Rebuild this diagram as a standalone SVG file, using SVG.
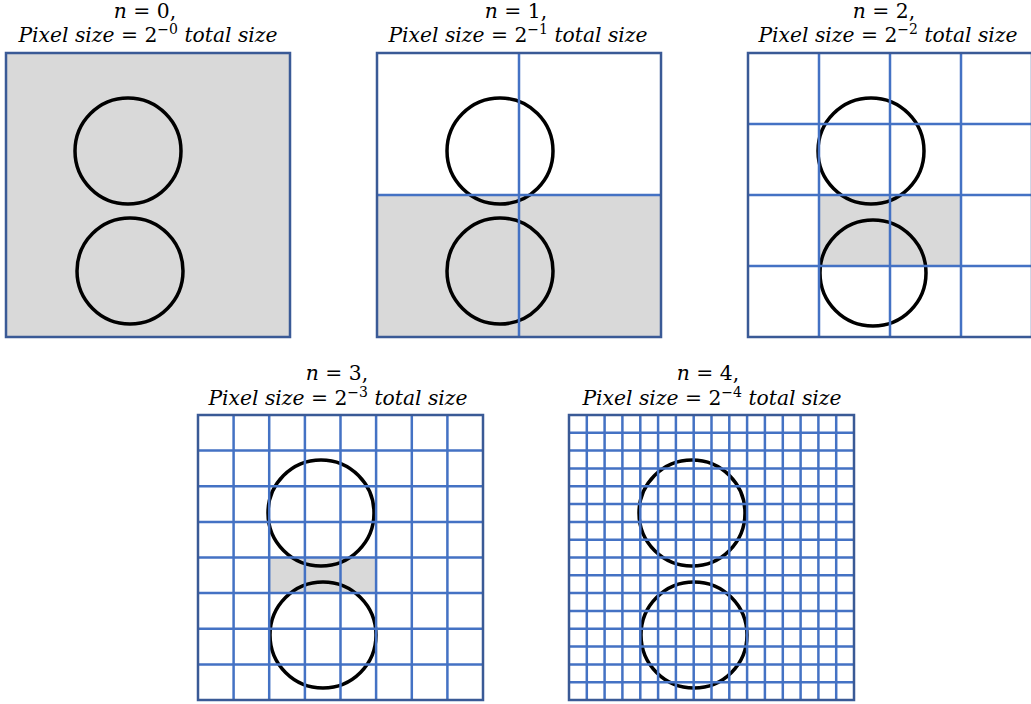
<svg xmlns="http://www.w3.org/2000/svg" width="1031" height="704" viewBox="0 0 1031 704">
<style>
.bg{fill:#fff}
.gray{fill:#D9D9D9;stroke:none}
.frame{fill:none;stroke:#3A5A96;stroke-width:2.5}
.grid{fill:none;stroke:#4472C4;stroke-width:2.5}
.circ{fill:none;stroke:#000;stroke-width:3.5}
.t{font-family:"DejaVu Serif","Liberation Serif",serif;font-size:20.3px;fill:#000;text-anchor:middle}
.i{font-style:italic}
.sup{font-size:14px}
</style>
<rect class="bg" x="0" y="0" width="1031" height="704"/>
<g id="panel0">
<text class="t" x="145" y="18"><tspan class="i">n</tspan> = 0,</text>
<text class="t" x="148" y="42"><tspan class="i">Pixel size</tspan> = 2<tspan class="sup" dy="-8">−0</tspan><tspan dy="8"> </tspan><tspan class="i">total size</tspan></text>
<rect class="gray" x="6" y="53" width="284" height="284"/>
<circle class="circ" cx="128" cy="151" r="53"/>
<circle class="circ" cx="130" cy="271" r="53"/>
<rect class="frame" x="6" y="53" width="284" height="284"/>
</g>
<g id="panel1">
<text class="t" x="516" y="18"><tspan class="i">n</tspan> = 1,</text>
<text class="t" x="518" y="42"><tspan class="i">Pixel size</tspan> = 2<tspan class="sup" dy="-8">−1</tspan><tspan dy="8"> </tspan><tspan class="i">total size</tspan></text>
<rect class="gray" x="377" y="195" width="284" height="142"/>
<circle class="circ" cx="500" cy="151" r="53"/>
<circle class="circ" cx="500" cy="271" r="53"/>
<path class="grid" d="M519 53V337M377 195H661"/>
<rect class="frame" x="377" y="53" width="284" height="284"/>
</g>
<g id="panel2">
<text class="t" x="884" y="18"><tspan class="i">n</tspan> = 2,</text>
<text class="t" x="888" y="42"><tspan class="i">Pixel size</tspan> = 2<tspan class="sup" dy="-8">−2</tspan><tspan dy="8"> </tspan><tspan class="i">total size</tspan></text>
<rect class="gray" x="819" y="195" width="142" height="71" stroke="#A6A6A6" stroke-width="1"/>
<circle class="circ" cx="871" cy="151" r="53"/>
<circle class="circ" cx="873" cy="273" r="53"/>
<path class="grid" d="M819 53V337M890 53V337M961 53V337M748 124H1032M748 195H1032M748 266H1032"/>
<rect class="frame" x="748" y="53" width="284" height="284"/>
</g>
<g id="panel3">
<text class="t" x="337" y="380"><tspan class="i">n</tspan> = 3,</text>
<text class="t" x="338" y="405"><tspan class="i">Pixel size</tspan> = 2<tspan class="sup" dy="-8">−3</tspan><tspan dy="8"> </tspan><tspan class="i">total size</tspan></text>
<rect class="gray" x="268.25" y="557.5" width="107.5" height="35.6"/>
<circle class="circ" cx="321" cy="513" r="53"/>
<circle class="circ" cx="323" cy="635" r="53"/>
<path class="grid" d="M233.6 415V700M269.2 415V700M304.9 415V700M340.5 415V700M376.1 415V700M411.8 415V700M447.4 415V700M198 450.6H483M198 486.2H483M198 521.9H483M198 557.5H483M198 593.1H483M198 628.8H483M198 664.4H483"/>
<rect class="frame" x="198" y="415" width="285" height="285"/>
</g>
<g id="panel4">
<text class="t" x="708" y="380"><tspan class="i">n</tspan> = 4,</text>
<text class="t" x="712" y="405"><tspan class="i">Pixel size</tspan> = 2<tspan class="sup" dy="-8">−4</tspan><tspan dy="8"> </tspan><tspan class="i">total size</tspan></text>
<circle class="circ" cx="692" cy="513" r="53"/>
<circle class="circ" cx="694" cy="635" r="53"/>
<path class="grid" d="M586.8 415V700M604.6 415V700M622.4 415V700M640.3 415V700M658.1 415V700M675.9 415V700M693.7 415V700M711.5 415V700M729.3 415V700M747.1 415V700M764.9 415V700M782.8 415V700M800.6 415V700M818.4 415V700M836.2 415V700M569 432.8H854M569 450.6H854M569 468.4H854M569 486.3H854M569 504.1H854M569 521.9H854M569 539.7H854M569 557.5H854M569 575.3H854M569 593.1H854M569 610.9H854M569 628.8H854M569 646.6H854M569 664.4H854M569 682.2H854"/>
<rect class="frame" x="569" y="415" width="285" height="285"/>
</g>
</svg>
